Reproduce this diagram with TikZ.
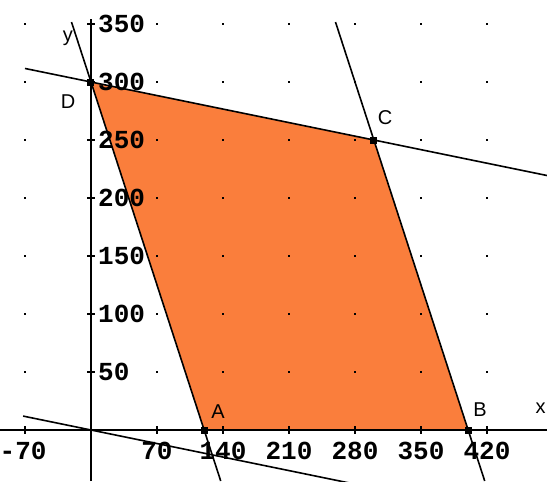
\documentclass[tikz,border=0pt]{standalone}
\usepackage{fontspec}
\newfontfamily\numfont{Liberation Mono}
\newfontfamily\lblfont{Liberation Sans}
\definecolor{regionfill}{RGB}{250,126,60}
\begin{document}
\begin{tikzpicture}[x=0.942857pt,y=1.16pt,
  lineedge/.style={line width=1.6pt,black},
  axisline/.style={line width=1.4pt,black},
  ticklab/.style={font=\numfont\bfseries\fontsize{26}{26}\selectfont, inner sep=0pt},
  ptlab/.style={font=\lblfont\fontsize{20}{20}\selectfont, inner sep=0pt},
  vertex/.style={fill=black, minimum size=7pt, inner sep=0pt, rectangle},
  griddot/.style={fill=black, minimum size=1.8pt, inner sep=0pt, rectangle}]
\useasboundingbox (-96.515,-43.966) rectangle (483.64,370.69);
\clip (-96.515,-43.966) rectangle (483.64,370.69);
\fill[white] (-96.515,-43.966) rectangle (483.64,370.69);
% vertices
\coordinate (pA) at (120,0);
\coordinate (pB) at (400,0);
\coordinate (pC) at (300,250);
\coordinate (pD) at (0,300);
% region
\fill[regionfill] (pA) -- (pB) -- (pC) -- (pD) -- cycle;
% grid dots
\foreach \gx in {-70,70,140,210,280,350,420}
  \foreach \gy in {50,100,150,200,250,300,350}
    \node[griddot] (g\gx\gy) at (\gx,\gy) {};
% axes
\coordinate (xl) at (-96.515,0);
\coordinate (xr) at (483.64,0);
\coordinate (yt) at (0,354);
\coordinate (yb) at (0,-43.966);
\draw[axisline] (xl) -- (xr);
\draw[axisline] (yb) -- (yt);
% ticks
\foreach \tx in {-70,70,140,210,280,350,420}
  \draw[line width=1.2pt] (\tx,-3.4) -- (\tx,3.4);
\foreach \ty in {50,100,150,200,250,300,350}
  \draw[line width=1.2pt] (-4.2,\ty) -- (4.2,\ty);
% constraint lines
\coordinate (DCl) at (-70,311.667);
\coordinate (DCr) at (483.64,219.39);
\coordinate (ADt) at (-20.68,351.7);
\coordinate (ADb) at (137.59,-43.966);
\coordinate (BCt) at (259.32,351.7);
\coordinate (BCb) at (417.59,-43.966);
\coordinate (OFl) at (-72,12);
\coordinate (OFr) at (280,-46.667);
\draw[lineedge] (DCl) -- (DCr);
\draw[lineedge] (ADt) -- (ADb);
\draw[lineedge] (BCt) -- (BCb);
\draw[lineedge] (OFl) -- (OFr);
% tick labels
\foreach \tx in {70,140,210,280,350,420}
  \node[ticklab] (lx\tx) at (\tx,-18.1) {\tx};
\node[ticklab] (lxm70) at (-72,-18.1) {-70};
\foreach \ty in {50,100,150,200,250,300,350}
  \node[ticklab, anchor=west] (ly\ty) at (7.4,\ty) {\ty};
% axis names
\node[ptlab] (ylab) at (-24.4,338) {y};
\node[ptlab] (xlab) at (477,19) {x};
% point labels
\node[ptlab] (labD) at (-24.4,282.8) {D};
\node[ptlab] (labC) at (311.8,269) {C};
\node[ptlab] (labA) at (134.7,15.5) {A};
\node[ptlab] (labB) at (412.5,17.2) {B};
% vertex markers
\node[vertex] (A) at (pA) {};
\node[vertex] (B) at (pB) {};
\node[vertex] (C) at (pC) {};
\node[vertex] (D) at (pD) {};
\end{tikzpicture}
\end{document}
